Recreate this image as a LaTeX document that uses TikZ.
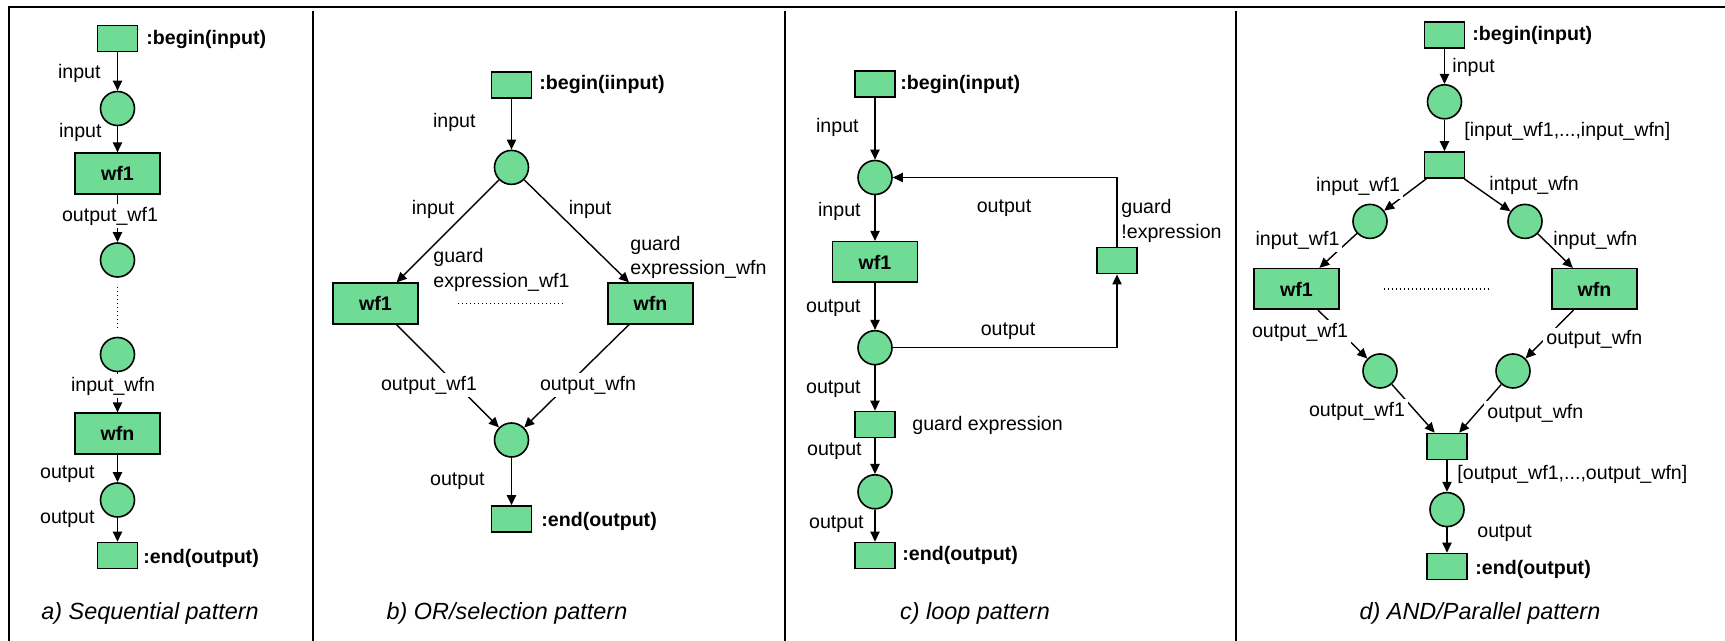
\documentclass[tikz,border=0pt]{standalone}
\usepackage{fontspec}
\setmainfont{Liberation Sans}
\usetikzlibrary{arrows.meta}
\definecolor{PetriGreen}{HTML}{6FDB94}

\begin{document}
\begin{tikzpicture}[
    x=0.5pt, y=-0.5pt,
    font=\fontsize{9.8}{12.25}\selectfont,
    tr/.style={draw, fill=PetriGreen, line width=0.8pt, minimum width=20pt,
               minimum height=13pt, inner sep=0pt},
    task/.style={tr, minimum width=42.5pt, minimum height=20.3pt,
                 font=\fontsize{9.8}{12}\selectfont\bfseries},
    pl/.style={circle, draw, fill=PetriGreen, line width=0.8pt,
               minimum size=17pt, inner sep=0pt},
    lb/.style={inner sep=0.5pt, align=left},
    cut/.style={lb, fill=white, inner sep=1.5pt},
    nm/.style={inner sep=0pt, font=\fontsize{9.8}{12}\selectfont\bfseries},
    capt/.style={font=\fontsize{11.7}{14}\selectfont\itshape},
    a/.style={-{Triangle[length=5pt, width=4.6pt]}, line width=0.7pt},
    dots/.style={line width=0.7pt, dash pattern=on 0.7pt off 1.3pt},
    frame/.style={line width=1pt},
  ]
  \useasboundingbox (0,0) rectangle (1725,641);
  % frame and panel separators
  \draw[frame] (9,641) -- (9,7) -- (1725,7);
  \draw[frame] (313,11) -- (313,641);
  \draw[frame] (785,11) -- (785,641);
  \draw[frame] (1236,11) -- (1236,641);

  % a) sequential
  \node[tr]   (abeg) at (117.5,38.6) {};
  \node[pl]   (ap1)  at (117.5,108.5) {};
  \node[task] (awf1) at (117.5,173.5) {wf1};
  \node[pl]   (ap2)  at (117.5,260) {};
  \node[pl]   (ap3)  at (117.5,354.5) {};
  \node[task] (awfn) at (117.5,433.5) {wfn};
  \node[pl]   (ap4)  at (117.5,500) {};
  \node[tr]   (aend) at (117.5,555.5) {};
  \draw[a] (abeg) -- (ap1);
  \draw[a] (ap1) -- (awf1);
  \draw[a] (awf1) -- (ap2);
  \draw[dots, shorten <=4.5pt, shorten >=4pt] (ap2) -- (ap3);
  \draw[a] (ap3) -- (awfn);
  \draw[a] (awfn) -- (ap4);
  \draw[a] (ap4) -- (aend);
  \node[nm, anchor=west] (abegl) at (146,39) {:begin(input)};
  \node[lb, anchor=east] (ain1) at (102,73.6) {input};
  \node[lb, anchor=east] (ain2) at (103,132.5) {input};
  \node[cut] (aowf1) at (110,216) {output\_wf1};
  \node[cut] (aiwfn) at (113,386) {input\_wfn};
  \node[lb, anchor=east] (aout1) at (96,474.6) {output};
  \node[lb, anchor=east] (aout2) at (96,519) {output};
  \node[nm, anchor=west] (aendl) at (143,558) {:end(output)};
  \node[capt] (acap) at (150,613) {a) Sequential pattern};

  % b) OR / selection
  \node[tr]   (bbeg) at (511.5,85) {};
  \node[pl]   (bp1)  at (511.5,167.4) {};
  \node[task] (bwf1) at (375.5,303.5) {wf1};
  \node[task] (bwfn) at (650.5,303.5) {wfn};
  \node[pl]   (bp2)  at (511.5,440) {};
  \node[tr]   (bend) at (511.5,519) {};
  \draw[a] (bbeg) -- (bp1);
  \draw[a] (bp1) -- (bwf1);
  \draw[a] (bp1) -- (bwfn);
  \draw[dots, shorten <=19.5pt, shorten >=21.5pt] (bwf1) -- (bwfn);
  \draw[a] (bwf1) -- (bp2);
  \draw[a] (bwfn) -- (bp2);
  \draw[a] (bp2) -- (bend);
  \node[nm, anchor=west] (bbegl) at (539,84.6) {:begin(iinput)};
  \node[lb, anchor=east] (bin1) at (477,122.6) {input};
  \node[lb] (bin2) at (433,209.7) {input};
  \node[lb] (bin3) at (590,209.7) {input};
  \node[lb, anchor=west] (bgd1) at (432,270) {guard\\expression\_wf1};
  \node[lb, anchor=west] (bgdn) at (629,257.5) {guard\\expression\_wfn};
  \node[cut] (bowf1) at (429,385) {output\_wf1};
  \node[cut] (bowfn) at (588,385) {output\_wfn};
  \node[lb, anchor=east] (bout) at (486,481) {output};
  \node[nm, anchor=west] (bendl) at (541,521) {:end(output)};
  \node[capt] (bcap) at (507,613) {b) OR/selection pattern};

  % c) loop
  \node[tr]   (cbeg)   at (875,84) {};
  \node[pl]   (cp1)    at (875,177.5) {};
  \node[task] (cwf1)   at (875,262) {wf1};
  \node[pl]   (cp2)    at (875,347.7) {};
  \node[tr]   (cguard) at (1117,260.6) {};
  \node[tr]   (cg2)    at (875,424.5) {};
  \node[pl]   (cp3)    at (875,491.8) {};
  \node[tr]   (cend)   at (875,555.5) {};
  \draw[a] (cbeg) -- (cp1);
  \draw[a] (cp1) -- (cwf1);
  \draw[a] (cwf1) -- (cp2);
  \draw[a] (cp2.east) -| (cguard.south);
  \draw[a] (cguard.north) |- (cp1.east);
  \draw[a] (cp2) -- (cg2);
  \draw[a] (cg2) -- (cp3);
  \draw[a] (cp3) -- (cend);
  \node[nm, anchor=west] (cbegl) at (900,84.6) {:begin(input)};
  \node[lb, anchor=east] (cin1) at (860,127.5) {input};
  \node[lb, anchor=east] (cin2) at (862,211) {input};
  \node[lb] (cback) at (1004,208.5) {output};
  \node[lb, anchor=west] (cnot) at (1120,221) {guard\\!expression};
  \node[lb, anchor=east] (cout1) at (862,308) {output};
  \node[lb] (cfwd) at (1008,331) {output};
  \node[lb, anchor=east] (cout2) at (862,389) {output};
  \node[lb, anchor=west] (cgdl) at (911,425.6) {guard expression};
  \node[lb, anchor=east] (cout3) at (863,451) {output};
  \node[lb, anchor=east] (cout4) at (865,523.7) {output};
  \node[nm, anchor=west] (cendl) at (902,555.6) {:end(output)};
  \node[capt] (ccap) at (975,613) {c) loop pattern};

  % d) AND / parallel
  \node[tr]   (dbeg)  at (1444.5,35) {};
  \node[pl]   (dp1)   at (1444.5,101.8) {};
  \node[tr]   (dsplit) at (1444.5,165) {};
  \node[pl]   (dl1)   at (1370,221.4) {};
  \node[pl]   (dr1)   at (1525,221.4) {};
  \node[task] (dwf1)  at (1296.5,289) {wf1};
  \node[task] (dwfn)  at (1594.5,289) {wfn};
  \node[pl]   (dl2)   at (1380,371) {};
  \node[pl]   (dr2)   at (1513,371) {};
  \node[tr]   (djoin) at (1447,446.5) {};
  \node[pl]   (dp2)   at (1447,509.6) {};
  \node[tr]   (dend)  at (1447,566.5) {};
  \draw[a] (dbeg) -- (dp1);
  \draw[a] (dp1) -- (dsplit);
  \draw[a] (dsplit) -- (dl1);
  \draw[a] (dsplit) -- (dr1);
  \draw[a] (dl1) -- (dwf1);
  \draw[a] (dr1) -- (dwfn);
  \draw[dots, shorten <=22pt, shorten >=30pt] (dwf1) -- (dwfn);
  \draw[a] (dwf1) -- (dl2);
  \draw[a] (dwfn) -- (dr2);
  \draw[a] (dl2) -- (djoin);
  \draw[a] (dr2) -- (djoin);
  \draw[a] (djoin) -- (dp2);
  \draw[a] (dp2) -- (dend);
  \node[nm, anchor=west] (dbegl) at (1472,35.6) {:begin(input)};
  \node[lb, anchor=west] (din) at (1451,67.5) {input};
  \node[lb, anchor=west] (dinall) at (1463,131) {[input\_wf1,...,input\_wfn]};
  \node[cut] (diwf1a) at (1358,186.4) {input\_wf1};
  \node[lb, anchor=west] (diwfna) at (1488,185) {intput\_wfn};
  \node[cut] (diwf1b) at (1297.5,240) {input\_wf1};
  \node[lb, anchor=west] (diwfnb) at (1552,240) {input\_wfn};
  \node[cut] (dowf1a) at (1300,332) {output\_wf1};
  \node[cut, anchor=west] (dowfna) at (1543,339.7) {output\_wfn};
  \node[cut] (dowf1b) at (1357,411) {output\_wf1};
  \node[cut, anchor=west] (dowfnb) at (1484,413) {output\_wfn};
  \node[lb, anchor=west] (doutall) at (1456,474.6) {[output\_wf1,...,output\_wfn]};
  \node[lb, anchor=west] (dout) at (1476,533.5) {output};
  \node[nm, anchor=west] (dendl) at (1475,569) {:end(output)};
  \node[capt] (dcap) at (1480,613) {d) AND/Parallel pattern};
\end{tikzpicture}
\end{document}
